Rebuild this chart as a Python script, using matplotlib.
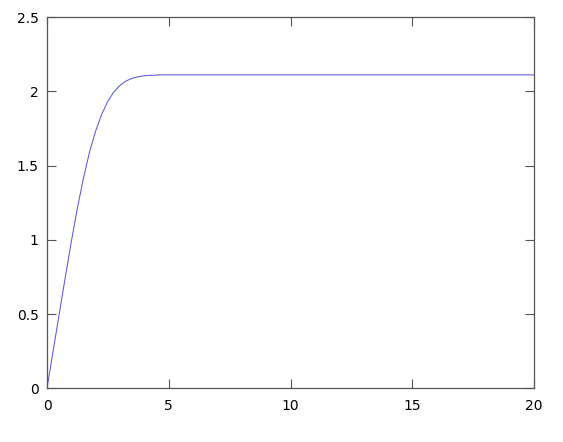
import matplotlib
matplotlib.use('Agg')
import matplotlib.pyplot as plt

# values
t = [0, 0.25, 0.5, 0.75, 1.0, 1.25, 1.5, 1.75, 2.0, 2.25, 2.5, 2.75,
     3.0, 3.25, 3.5, 3.75, 4.0, 4.25, 4.5, 4.75, 20.0]
y = [0, 0.25, 0.5, 0.748, 0.99, 1.216, 1.419, 1.594, 1.735, 1.848, 1.935,
     1.998, 2.042, 2.071, 2.089, 2.100, 2.106, 2.109, 2.111, 2.112, 2.112]

x_ticks = [0, 5, 10, 15, 20]
y_ticks = [0, 0.5, 1, 1.5, 2, 2.5]
y_labels = ['0', '0.5', '1', '1.5', '2', '2.5']

fig = plt.figure(figsize=(5.63, 4.42), dpi=100)
ax = fig.add_axes([0.0835, 0.1215, 0.865, 0.8394])
ax.plot(t, y, color='#5a5ad8', linewidth=0.75)

ax.set_xlim(0, 20)
ax.set_ylim(0, 2.5)
ax.set_xticks(x_ticks)
ax.set_xticklabels([str(v) for v in x_ticks])
ax.set_yticks(y_ticks)
ax.set_yticklabels(y_labels)

ax.tick_params(direction='in', length=6.5, width=0.8, color='#555555',
               top=True, right=True, labelsize=10)
ax.tick_params(axis='x', pad=8)
ax.tick_params(axis='y', pad=6)
for s in ax.spines.values():
    s.set_color('#555555')
    s.set_linewidth(0.9)

fig.savefig('out.png', dpi=100)
